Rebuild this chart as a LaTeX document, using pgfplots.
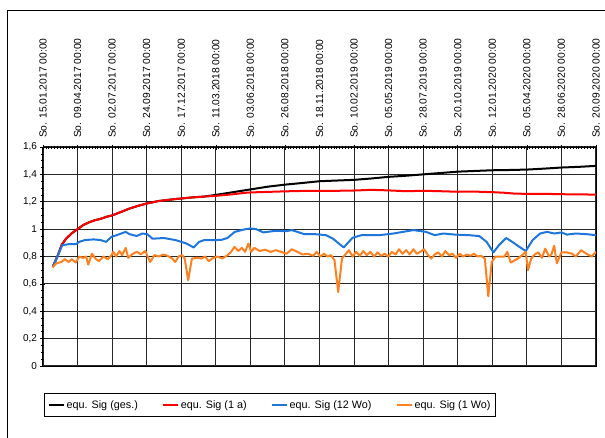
\documentclass[border=0pt]{standalone}
\usepackage{fontspec}
\setmainfont{Liberation Sans}
\usepackage{pgfplots}
\pgfplotsset{compat=1.18}
\definecolor{sigblue}{RGB}{30,118,220}
\definecolor{sigorange}{RGB}{255,128,30}
\definecolor{gridc}{RGB}{40,40,40}
\begin{document}
\begin{tikzpicture}[x=1pt,y=1pt]
\useasboundingbox (0,0) rectangle (605,437);
\draw[black, line width=1pt] (7,-10) -- (7,426) -- (620,426);
\begin{axis}[
  at={(43pt,71pt)}, anchor=south west,
  scale only axis, width=553pt, height=219pt,
  xmin=0, xmax=192, ymin=0, ymax=1.6,
  xtick={0,12,...,192},
  xticklabels={So. 15.01.2017 00:00, So. 09.04.2017 00:00, So. 02.07.2017 00:00, So. 24.09.2017 00:00, So. 17.12.2017 00:00, So. 11.03.2018 00:00, So. 03.06.2018 00:00, So. 26.08.2018 00:00, So. 18.11.2018 00:00, So. 10.02.2019 00:00, So. 05.05.2019 00:00, So. 28.07.2019 00:00, So. 20.10.2019 00:00, So. 12.01.2020 00:00, So. 05.04.2020 00:00, So. 28.06.2020 00:00, So. 20.09.2020 00:00},
  xticklabel pos=upper, xtick pos=upper,
  xticklabel style={rotate=90, anchor=west, font=\fontsize{10.3}{12}\selectfont},
  xticklabel shift=3pt,
  minor x tick num=11,
  ytick={0,0.2,...,1.6},
  yticklabels={0,{0,2},{0,4},{0,6},{0,8},1,{1,2},{1,4},{1,6}},
  ytick pos=left,
  yticklabel style={font=\fontsize{10}{12}\selectfont},
  minor y tick num=3,
  tick align=center,
  major tick length=5pt, minor tick length=3pt,
  every tick/.style={black, line width=0.6pt},
  grid=major,
  major grid style={gridc, line width=1.1pt},
  axis line style={black, line width=1pt},
  legend columns=4,
  legend style={at={(0.4105,-0.178)}, anchor=center, draw=black, line width=0.8pt,
    font=\fontsize{10.8}{13}\selectfont, inner xsep=3pt, inner ysep=5pt,
    /tikz/every even column/.append style={column sep=22pt}},
  legend image code/.code={\draw[#1] (0pt,0pt) -- (15pt,0pt);},
  every axis plot/.append style={line width=2pt, line join=round},
]
\addplot[black] coordinates {(3.4,0.725)(5,0.80)(6.5,0.885)(8,0.93)(10,0.97)(12,1.0)(14,1.03)(16,1.05)(18,1.065)(20,1.075)(22,1.09)(24,1.10)(27,1.125)(30,1.15)(33,1.17)(36,1.187)(40,1.205)(44,1.215)(48,1.224)(52,1.232)(56,1.238)(60,1.25)(66,1.27)(72,1.29)(78,1.31)(84,1.325)(90,1.337)(96,1.35)(102,1.355)(108,1.36)(114,1.37)(120,1.382)(126,1.39)(132,1.40)(138,1.41)(144,1.42)(150,1.425)(156,1.43)(162,1.432)(168,1.435)(174,1.442)(180,1.45)(186,1.455)(192,1.462)};
\addlegendentry{equ. Sig (ges.)}
\addplot[red] coordinates {(3.4,0.725)(5,0.80)(6.5,0.885)(8,0.93)(10,0.97)(12,1.0)(14,1.03)(16,1.05)(18,1.065)(20,1.075)(22,1.09)(24,1.10)(27,1.125)(30,1.15)(33,1.17)(36,1.187)(40,1.205)(44,1.215)(48,1.224)(52,1.232)(56,1.238)(60,1.243)(66,1.255)(70,1.265)(72,1.268)(78,1.272)(84,1.276)(90,1.279)(96,1.28)(102,1.28)(108,1.282)(114,1.287)(120,1.283)(126,1.277)(132,1.28)(138,1.277)(144,1.273)(150,1.274)(156,1.27)(160,1.266)(164,1.259)(168,1.258)(174,1.258)(180,1.255)(186,1.254)(192,1.252)};
\addlegendentry{equ. Sig (1 a)}
\addplot[sigblue] coordinates {(3.4,0.725)(5,0.80)(6.7,0.883)(9,0.89)(11.4,0.89)(12.6,0.907)(14.5,0.92)(17.6,0.925)(20,0.92)(21.9,0.907)(23.8,0.944)(25.6,0.956)(28.7,0.98)(30,0.963)(32.5,0.95)(34.5,0.968)(36.2,0.963)(38,0.93)(42,0.935)(46,0.92)(49.8,0.895)(52.3,0.866)(54.2,0.907)(56,0.92)(60,0.92)(62,0.922)(64,0.935)(66.6,0.98)(69.7,0.997)(72,1.005)(74,1.0)(76.5,0.976)(80.8,0.988)(84.5,0.985)(86.4,0.993)(88.3,0.98)(90.7,0.963)(94.5,0.963)(98.2,0.956)(100.7,0.93)(104.4,0.866)(107.5,0.937)(110.6,0.956)(116.8,0.956)(121.7,0.968)(125,0.98)(128.6,0.993)(132.9,0.98)(136,0.956)(139,0.968)(143,0.96)(147.8,0.956)(151.5,0.949)(154,0.907)(156.4,0.83)(158.3,0.883)(160.8,0.935)(162.7,0.91)(165.1,0.875)(167.6,0.84)(170,0.92)(172.6,0.968)(175,0.98)(177.5,0.968)(180,0.976)(181.9,0.96)(185,0.968)(188.7,0.963)(192,0.956)};
\addlegendentry{equ. Sig (12 Wo)}
\addplot[sigorange] coordinates {(3.3,0.72)(4.6,0.75)(6.4,0.76)(7.6,0.78)(8.9,0.76)(10,0.78)(11.4,0.756)(12.6,0.80)(13.9,0.79)(15,0.80)(15.7,0.74)(17,0.82)(18.2,0.785)(19.4,0.766)(21,0.80)(22.5,0.78)(23.8,0.81)(24.4,0.834)(25.4,0.80)(26.5,0.84)(27.5,0.81)(28.7,0.863)(29.6,0.79)(31,0.817)(32.5,0.834)(34,0.817)(35.5,0.84)(37.2,0.76)(38.7,0.81)(40.3,0.80)(41.8,0.815)(43.2,0.805)(44.9,0.785)(45.9,0.76)(47.1,0.80)(48.3,0.81)(49.2,0.785)(50.4,0.627)(51.7,0.785)(53.5,0.79)(55,0.785)(56.3,0.80)(57.5,0.766)(59.1,0.79)(60.6,0.80)(62.2,0.785)(64.1,0.81)(65.3,0.834)(66.5,0.87)(67.8,0.84)(69,0.863)(70.2,0.834)(71.3,0.895)(72.3,0.834)(73.4,0.863)(75.2,0.84)(77.1,0.85)(79,0.834)(80.8,0.846)(82.7,0.834)(84.5,0.82)(86.4,0.853)(88.3,0.834)(90.1,0.815)(92,0.82)(93.8,0.805)(95,0.834)(96.3,0.80)(97.5,0.82)(98.8,0.80)(100,0.81)(101.2,0.773)(102.5,0.54)(103.8,0.785)(105,0.815)(106.2,0.846)(107.5,0.80)(108.7,0.834)(110,0.805)(111.2,0.84)(112.4,0.81)(113.7,0.834)(114.9,0.80)(116.2,0.83)(117.4,0.805)(118.6,0.82)(119.9,0.80)(121.1,0.834)(122.4,0.815)(123.6,0.853)(124.8,0.82)(126.1,0.846)(127.3,0.815)(128.6,0.853)(129.8,0.82)(131,0.834)(132.3,0.853)(133.5,0.815)(134.8,0.785)(136,0.815)(137.2,0.83)(138.5,0.80)(139.7,0.84)(141,0.81)(142.2,0.82)(143.4,0.79)(144.7,0.82)(145.9,0.80)(147.2,0.815)(148.4,0.805)(149.6,0.82)(150.9,0.80)(152.1,0.805)(153.4,0.785)(154.6,0.51)(155.8,0.76)(157.1,0.80)(158.9,0.80)(160.2,0.80)(161.2,0.834)(162.4,0.756)(164.5,0.78)(166.4,0.81)(167.6,0.834)(168.4,0.70)(169.5,0.785)(170.7,0.815)(172,0.83)(173.2,0.79)(174.4,0.858)(175.7,0.80)(176.5,0.815)(177.5,0.878)(178.4,0.75)(180,0.83)(181.9,0.83)(183.7,0.82)(185,0.80)(186.8,0.846)(188.7,0.82)(190.5,0.80)(192,0.834)};
\addlegendentry{equ. Sig (1 Wo)}
\end{axis}
\end{tikzpicture}
\end{document}
